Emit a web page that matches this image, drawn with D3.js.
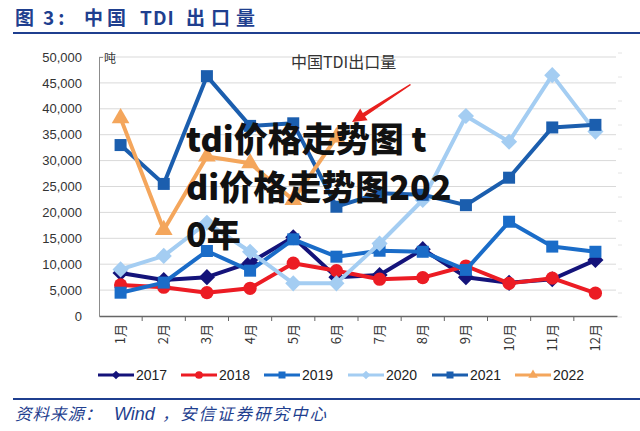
<!DOCTYPE html>
<html lang="zh">
<head>
    <meta charset="UTF-8">
    <title>中国TDI出口量</title>
    <script src="https://d3js.org/d3.v7.min.js"></script>
    <style>
        body { margin: 0; background: #fff; }
        text { font-family: "Liberation Sans", "Noto Sans CJK SC", sans-serif; }
        .cjk { font-family: "Noto Sans CJK SC", sans-serif; }
        .grid line { stroke: #d9d9d9; }
        path.sline { fill: none; stroke-width: 4; stroke-linejoin: round; }
    </style>
</head>
<body>
<script>
    const width  = 640;
    const height = 431;

    const months = ["1月","2月","3月","4月","5月","6月","7月","8月","9月","10月","11月","12月"];
    const yTicks = [0,5000,10000,15000,20000,25000,30000,35000,40000,45000,50000];

    // 出口量（吨）
    const y2017 = [8300,6950,7500,10300,15200,7500,7900,12900,7500,6400,7100,10800];
    const y2018 = [6000,5550,4500,5350,10200,8750,7100,7400,9650,6300,7300,4400];
    const y2019 = [4500,6450,12550,8750,14800,11450,12600,12400,8900,18200,13400,12400];
    const y2020 = [9000,11600,18000,12400,6300,6300,14000,22400,38600,33650,46500,35600];
    const y2021 = [33000,25500,46300,36700,37200,21100,23700,23400,21400,26700,36400,36900];
    const y2022 = [38200,16600,30800,29500,22400,34500];

    const series = [
        {name: "2017", values: y2017, color: "#14137a", marker: "diamond"},
        {name: "2018", values: y2018, color: "#ec1c24", marker: "circle"},
        {name: "2019", values: y2019, color: "#1a6cc8", marker: "square"},
        {name: "2020", values: y2020, color: "#a4cdf2", marker: "diamond"},
        {name: "2021", values: y2021, color: "#1b5eae", marker: "square"},
        {name: "2022", values: y2022, color: "#f4a65c", marker: "triangle"}
    ];

    const svg = d3.select("body").append("svg").attr("width", width).attr("height", height);

    // 标题
    const title = svg.append("text").attr("class", "cjk")
        .attr("y", 25).attr("font-size", 19).attr("font-weight", "bold").attr("fill", "#1f3f8f");
    [["图", 15, 0], ["3:", 43, 4], ["中国", 84, 4], ["TDI", 140, 1], ["出口量", 186, 6]].forEach(p => {
        title.append("tspan").attr("x", p[1]).attr("letter-spacing", p[2]).text(p[0]);
    });
    svg.append("line").attr("x1", 13).attr("x2", 640).attr("y1", 33).attr("y2", 33)
        .attr("stroke", "#1f3f8f").attr("stroke-width", 2);

    const x = d3.scaleBand().domain(months).range([99, 617]);
    const y = d3.scaleLinear().domain([0, 50000]).range([316, 57]);

    // 网格线
    svg.append("g").attr("class", "grid")
        .selectAll("line").data(yTicks.slice(1)).join("line")
        .attr("x1", 99).attr("x2", 616)
        .attr("y1", d => y(d)).attr("y2", d => y(d));

    // 右侧淡色刻度
    svg.append("g").selectAll("line").data(d3.range(12)).join("line")
        .attr("x1", 618).attr("x2", 622)
        .attr("y1", i => 53 + i * 24).attr("y2", i => 53 + i * 24)
        .attr("stroke", "#e4e4e4");

    // y 轴
    const yAxis = d3.axisLeft(y).tickValues(yTicks).tickFormat(d3.format(",")).tickSize(0).tickPadding(17);
    const gy = svg.append("g").attr("transform", "translate(99,0)").call(yAxis);
    gy.select(".domain").attr("stroke", "#8c8c8c");
    gy.selectAll("text").attr("font-size", 13).attr("fill", "#333");
    svg.append("line").attr("x1", 99).attr("x2", 103).attr("y1", 57.5).attr("y2", 57.5).attr("stroke", "#8c8c8c");
    svg.append("text").attr("class", "cjk").attr("x", 104).attr("y", 63)
        .attr("font-size", 12).attr("fill", "#333").text("吨");

    // x 轴
    const xAxis = d3.axisBottom(x).tickSize(0).tickSizeOuter(0);
    const gx = svg.append("g").attr("transform", "translate(0,316)").call(xAxis);
    gx.select(".domain").attr("stroke", "#666").attr("stroke-width", 1.5);
    gx.selectAll(".tick text")
        .attr("class", "cjk")
        .attr("font-size", 13).attr("fill", "#333")
        .attr("transform", "rotate(-90)")
        .attr("text-anchor", "end").attr("dy", "0.35em").attr("dx", 0)
        .attr("x", -8).attr("y", 0);
    svg.append("g").selectAll("line").data(months.slice(1)).join("line")
        .attr("x1", d => x(d)).attr("x2", d => x(d))
        .attr("y1", 316).attr("y2", 321).attr("stroke", "#666");

    // 图内标题
    svg.append("text").attr("class", "cjk")
        .attr("x", 291).attr("y", 68).attr("font-size", 16).attr("fill", "#333")
        .text("中国TDI出口量");

    const cx = (d, i) => x(months[i]) + x.bandwidth() / 2;
    const line = d3.line().x(cx).y(d => y(d));

    function drawMarker(g, type, color, size) {
        if (type === "circle") {
            g.append("circle").attr("r", size * 0.55).attr("fill", color);
        } else if (type === "square") {
            g.append("rect").attr("x", -size / 2).attr("y", -size / 2)
                .attr("width", size).attr("height", size).attr("fill", color);
        } else if (type === "diamond") {
            const h = size * 0.62;
            g.append("path").attr("d", "M0," + (-h) + "L" + h + ",0L0," + h + "L" + (-h) + ",0Z").attr("fill", color);
        } else {
            g.append("path").attr("d", d3.symbol(d3.symbolTriangle, size * size * 0.8)()).attr("fill", color);
        }
    }

    series.forEach(s => {
        const g = svg.append("g");
        g.append("path").attr("class", "sline").attr("d", line(s.values)).attr("stroke", s.color);
        const size = s.marker === "square" ? 12 : (s.marker === "circle" ? 12 : 13);
        s.values.forEach((v, i) => {
            const m = g.append("g").attr("transform", "translate(" + [cx(v, i), y(v)] + ")");
            drawMarker(m, s.marker, s.color, size);
        });
    });

    // 图例
    const legendX = [98, 181, 264, 348, 432, 515];
    const legend = svg.append("g").selectAll("g").data(series).join("g")
        .attr("transform", (d, i) => "translate(" + [legendX[i], 375] + ")");
    legend.append("line").attr("x1", 0).attr("x2", 36).attr("stroke-width", 3)
        .attr("stroke", d => d.color);
    legend.each(function (d) {
        const m = d3.select(this).append("g").attr("transform", "translate(18,0)");
        drawMarker(m, d.marker, d.color, 7);
    });
    legend.append("text").attr("x", 38).attr("y", 5).attr("font-size", 14).attr("fill", "#222")
        .text(d => d.name);

    // 底部来源
    svg.append("line").attr("x1", 13).attr("x2", 640).attr("y1", 399).attr("y2", 399)
        .attr("stroke", "#1f3f8f").attr("stroke-width", 2);
    const src = svg.append("text").attr("class", "cjk")
        .attr("y", 420).attr("font-size", 16.5).attr("font-style", "italic").attr("fill", "#1f3f8f");
    src.append("tspan").attr("x", 15).attr("letter-spacing", 1).text("资料来源：");
    src.append("tspan").attr("x", 114).attr("font-family", "Liberation Sans")
        .attr("font-size", 18).text("Wind");
    src.append("tspan").attr("x", 162).text("，");
    src.append("tspan").attr("x", 180).attr("letter-spacing", 2).text("安信证券研究中心");

    // 水印文字
    const wm = svg.append("text").attr("class", "cjk")
        .attr("font-size", 34).attr("font-weight", 900).attr("fill", "#111");
    ["tdi价格走势图 t", "di价格走势图202", "0年"].forEach((t, i) => {
        wm.append("tspan").attr("x", 186).attr("y", 152 + i * 47.5).text(t);
    });

    // 红色箭头
    const arrow = d3.path();
    arrow.moveTo(411, 85);
    arrow.lineTo(365.0, 116.4);
    arrow.lineTo(367.6, 120.3);
    arrow.lineTo(352, 122);
    arrow.lineTo(360.2, 108.6);
    arrow.lineTo(362.8, 112.9);
    arrow.lineTo(410, 84);
    arrow.closePath();
    svg.append("path").attr("d", arrow.toString()).attr("fill", "#e8201e");
</script>
</body>
</html>
